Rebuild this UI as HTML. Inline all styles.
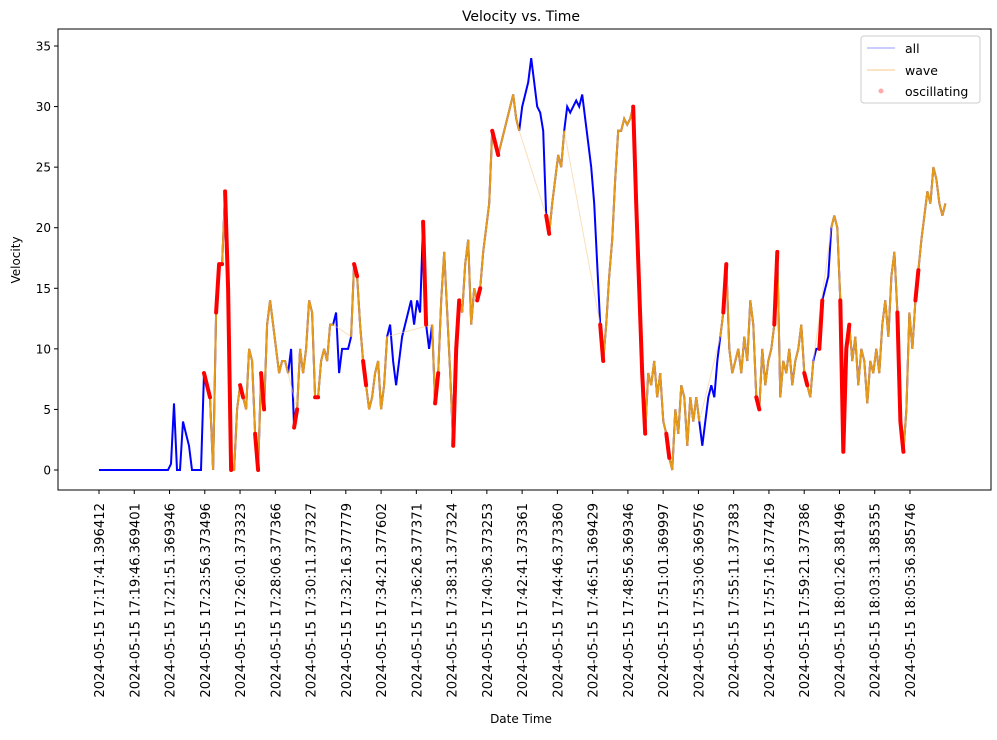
<!DOCTYPE html>
<html><head><meta charset="utf-8"><style>
body{margin:0;background:#fff;font-family:"DejaVu Sans",sans-serif;}
svg text{font-family:"DejaVu Sans",sans-serif;fill:#000;}
</style></head><body>
<svg id="c" width="997" height="736" xmlns="http://www.w3.org/2000/svg"></svg>
<script>
const tickLabels=["2024-05-15 17:17:41.396412","2024-05-15 17:19:46.369401","2024-05-15 17:21:51.369346","2024-05-15 17:23:56.373496","2024-05-15 17:26:01.373323","2024-05-15 17:28:06.377366","2024-05-15 17:30:11.377327","2024-05-15 17:32:16.377779","2024-05-15 17:34:21.377602","2024-05-15 17:36:26.377371","2024-05-15 17:38:31.377324","2024-05-15 17:40:36.373253","2024-05-15 17:42:41.373361","2024-05-15 17:44:46.373360","2024-05-15 17:46:51.369429","2024-05-15 17:48:56.369346","2024-05-15 17:51:01.369997","2024-05-15 17:53:06.369576","2024-05-15 17:55:11.377383","2024-05-15 17:57:16.377429","2024-05-15 17:59:21.377386","2024-05-15 18:01:26.381496","2024-05-15 18:03:31.385355","2024-05-15 18:05:36.385746"];
const yTicks=[0,5,10,15,20,25,30,35];
const sampleSeconds=10.64;
const velocity=[0,0,0,0,0,0,0,0,0,0,0,0,0,0,0,0,0,0,0,0,0,0,0,0,
0.5,5.5,0,0,4,3,2,0,0,0,0,8,7,6,0,13,17,17,23,15,0,0,5,7,6,5,10,9,3,0,8,5,12,14,12,10,8,9,9,8,10,3.5,5,10,8,10,14,13,6,6,9,10,9,12,12,13,8,10,10,10,11,17,16,12,9,7,5,6,8,9,5,7,11,12,9,7,9,11,12,13,14,12,14,13,20.5,12,10,12,5.5,8,14,18,13,8,2,10,14,13,17,19,12,15,14,15,18,20,22,28,27,26,27,28,29,30,31,29,28,30,31,32,34,32,30,29.5,28,21,19.5,22,24,26,25,28,30,29.5,30,30.5,30,31,29,27,25,22,17,12,9,12,16,19,24,28,28,29,28.5,29,30,22,15,8,3,8,7,9,6,8,4,3,1,0,5,3,7,6,2,6,4,6,4,2,4,6,7,6,9,11,13,17,10,8,9,10,8,11,9,14,12,6,5,10,7,9,10,12,18,6,9,8,10,7,9,10,12,8,7,6,9,10,10,14,15,16,20,21,20,14,1.5,10,12,9,11,7,10,9,5.5,9,8,10,8,12,14,11,16,18,13,4,1.5,5,13,10,14,16.5,19,21,23,22,25,24,22,21,22];
const waveRanges=[[35,63],[66,78],[84,96],[111,140],[149,155],[167,200],[207,238],[244,266],[267,282]];
const oscRanges=[[35,37],[39,41],[42,44],[47,48],[52,53],[54,55],[65,66],[72,73],[85,86],[88,89],[108,109],[112,113],[118,120],[126,127],[131,133],[149,150],[167,168],[178,182],[189,190],[208,209],[219,220],[225,226],[235,236],[240,241],[247,250],[266,268],[272,273]];
const NS="http://www.w3.org/2000/svg";
const svg=document.getElementById('c');
const X0=58,X1=991,Y0=29,Y1=490;
const tickStep=125;
const xs=t=>99+t*(35.26/tickStep);
const ys=v=>470-v*(424/35);
function mk(tag,attrs,parent){const e=document.createElementNS(NS,tag);for(const k in attrs)e.setAttribute(k,attrs[k]);(parent||svg).appendChild(e);return e;}
const times=velocity.map((v,i)=>i*sampleSeconds);
let tt=mk('text',{x:521,y:21,'text-anchor':'middle','font-size':14});tt.textContent='Velocity vs. Time';


yTicks.forEach(v=>{
 mk('line',{x1:X0-4,x2:X0,y1:ys(v),y2:ys(v),stroke:'#000'});
 const t=mk('text',{x:X0-7,y:ys(v)+4.5,'text-anchor':'end','font-size':12});t.textContent=v;
 
 
});
tickLabels.forEach((l,i)=>{
 const x=xs(i*tickStep);
 mk('line',{x1:x,x2:x,y1:Y1,y2:Y1+4,stroke:'#000'});
 const t=mk('text',{x:0,y:0,'text-anchor':'end','font-size':13.2,transform:`translate(${x+5},${Y1+13}) rotate(-90)`});t.textContent=l;
 
 
});
let xl=mk('text',{x:521,y:723,'text-anchor':'middle','font-size':12});xl.textContent='Date Time';


let yl=mk('text',{x:0,y:0,'text-anchor':'middle','font-size':12,transform:'translate(20,260) rotate(-90)'});yl.textContent='Velocity';


const pts=velocity.map((v,i)=>xs(times[i]).toFixed(1)+','+ys(v).toFixed(1)).join(' ');
const all=mk('polyline',{points:pts,fill:'none',stroke:'#0000ff','stroke-width':2});


const wIdx=[];waveRanges.forEach(r=>{for(let i=r[0];i<=r[1];i++)wIdx.push(i);});
const conn=mk('polyline',{points:wIdx.map(i=>xs(times[i]).toFixed(1)+','+ys(velocity[i]).toFixed(1)).join(' '),fill:'none',stroke:'#f5c98a','stroke-width':1,opacity:0.6});


waveRanges.forEach(r=>{
 const p=[];for(let i=r[0];i<=r[1];i++)p.push(xs(times[i]).toFixed(1)+','+ys(velocity[i]).toFixed(1));
 const w=mk('polyline',{points:p.join(' '),fill:'none',stroke:'#e69a1a','stroke-width':2});
 
 
});
oscRanges.forEach(r=>{
 const p=[];for(let i=r[0];i<=r[1];i++)p.push(xs(times[i]).toFixed(1)+','+ys(velocity[i]).toFixed(1));
 const o=mk('polyline',{points:p.join(' '),fill:'none',stroke:'#ff0000','stroke-width':4,'stroke-linecap':'round','stroke-linejoin':'round'});
 
 
});
const fr=mk('rect',{x:X0,y:Y0,width:X1-X0,height:Y1-Y0,fill:'none',stroke:'#000','stroke-width':1});


const lg=mk('g',{});


mk('rect',{x:861,y:36,width:119,height:67,rx:3,fill:'#fff',stroke:'#ccc'},lg);
mk('line',{x1:867,x2:895,y1:48,y2:48,stroke:'#9999ff','stroke-width':1},lg);
mk('line',{x1:867,x2:895,y1:70,y2:70,stroke:'#f5c98a','stroke-width':1},lg);
mk('circle',{cx:881,cy:91,r:2.5,fill:'#ffaaaa'},lg);
[['all',53],['wave',75],['oscillating',96]].forEach(([s,y])=>{const t=mk('text',{x:905,y:y,'font-size':12.5},lg);t.textContent=s;
 
 });
</script>
</body></html>
